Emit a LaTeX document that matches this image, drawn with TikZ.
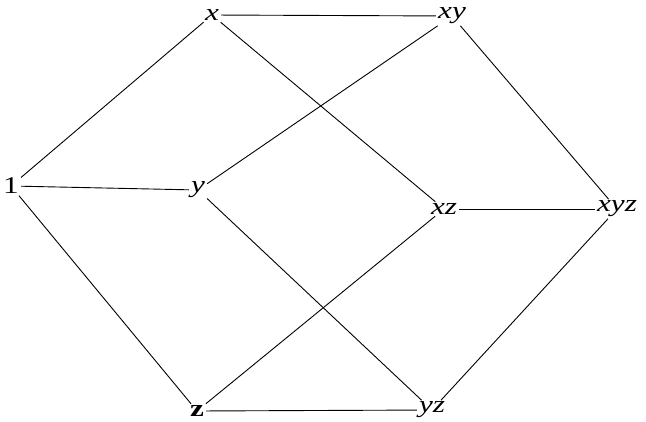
\documentclass[tikz,border=0pt]{standalone}
\usepackage{fontspec}
\setmainfont{Liberation Serif}
\begin{document}
\begin{tikzpicture}[x=1pt,y=-1pt,
  lab/.style={inner sep=1.5pt,font=\fontsize{24}{24}\selectfont\itshape,xscale=1.3},
  edge/.style={draw=black,line width=0.9pt}]
\useasboundingbox[fill=white] (0,0) rectangle (646,421);
\node[lab,font=\fontsize{24}{24}\selectfont] (one) at (11,186) {1};
\node[lab] (x) at (212,15) {x};
\node[lab] (xy) at (452,16) {xy};
\node[lab] (y) at (198,190) {y};
\node[lab] (xz) at (444,209) {xz};
\node[lab] (xyz) at (617,209) {xyz};
\node[lab,font=\fontsize{24}{24}\selectfont\bfseries] (z) at (197,411) {z};
\node[lab] (yz) at (432,410) {yz};
\path[edge] (one) -- (x);
\path[edge] (one) -- (y);
\path[edge] (one) -- (z);
\path[edge] (x) -- (xy);
\path[edge] (x) -- (xz);
\path[edge] (xy) -- (y);
\path[edge] (xy) -- (xyz);
\path[edge] (y) -- (yz);
\path[edge] (xz) -- (xyz);
\path[edge] (xz) -- (z);
\path[edge] (z) -- (yz);
\path[edge] (yz) -- (xyz);
\end{tikzpicture}
\end{document}
